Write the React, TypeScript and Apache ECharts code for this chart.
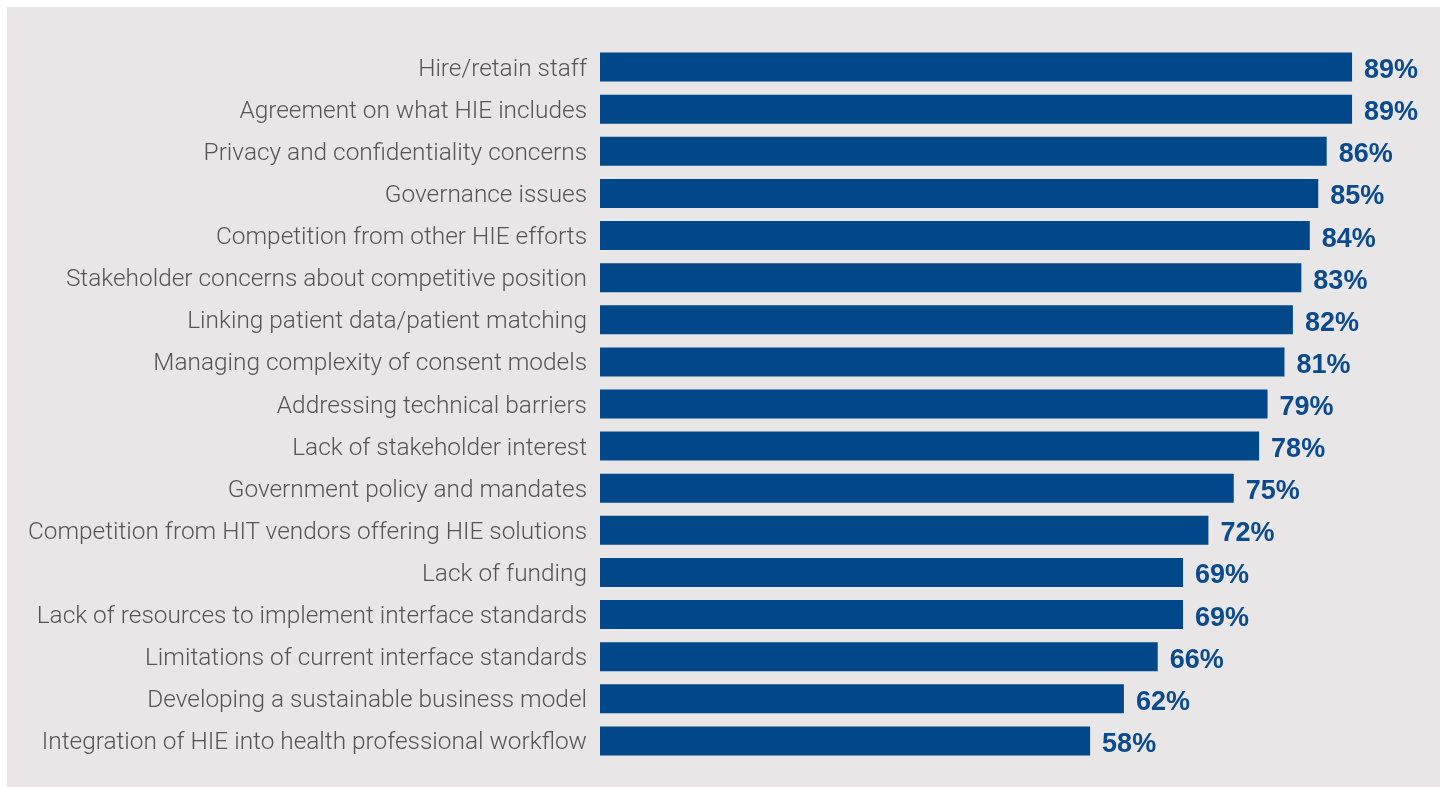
import React, { useEffect, useRef } from "react";
import * as echarts from "echarts";

const categories = [
  "Hire/retain staff",
  "Agreement on what HIE includes",
  "Privacy and confidentiality concerns",
  "Governance issues",
  "Competition from other HIE efforts",
  "Stakeholder concerns about competitive position",
  "Linking patient data/patient matching",
  "Managing complexity of consent models",
  "Addressing technical barriers",
  "Lack of stakeholder interest",
  "Government policy and mandates",
  "Competition from HIT vendors offering HIE solutions",
  "Lack of funding",
  "Lack of resources to implement interface standards",
  "Limitations of current interface standards",
  "Developing a sustainable business model",
  "Integration of HIE into health professional workflow",
];

const values = [89, 89, 86, 85, 84, 83, 82, 81, 79, 78, 75, 72, 69, 69, 66, 62, 58];

export default function App() {
  const ref = useRef<HTMLDivElement>(null);
  useEffect(() => {
    if (!ref.current) return;
    const chart = echarts.init(ref.current, null, { renderer: "svg" });
    chart.setOption({
      animation: false,
      graphic: [
        {
          type: "rect",
          z: -10,
          silent: true,
          shape: { x: 7, y: 7, width: 1433, height: 780 },
          style: { fill: "#e8e6e7" },
        },
      ],
      grid: { left: 600, top: 46, width: 845, height: 716, containLabel: false },
      xAxis: {
        type: "value",
        min: 0,
        max: 100,
        show: false,
      },
      yAxis: {
        type: "category",
        data: categories,
        inverse: true,
        axisLine: { show: false },
        axisTick: { show: false },
        axisLabel: {
          color: "#555555",
          fontSize: 24.4,
          fontFamily: "Roboto",
          fontWeight: 300,
          margin: 13,
        },
      },
      series: [
        {
          type: "bar",
          data: values,
          barWidth: 29,
          itemStyle: { color: "#004889" },
          label: {
            show: true,
            position: "right",
            distance: 12,
            offset: [0, 2],
            formatter: "{c}%",
            color: "#0b4a8c",
            fontSize: 27,
            fontWeight: "bold",
            fontFamily: "Liberation Sans",
          },
        },
      ],
    });
    return () => chart.dispose();
  }, []);
  return (
    <div
      ref={ref}
      style={{ position: "fixed", left: 0, top: 0, width: 1448, height: 787 }}
    />
  );
}
